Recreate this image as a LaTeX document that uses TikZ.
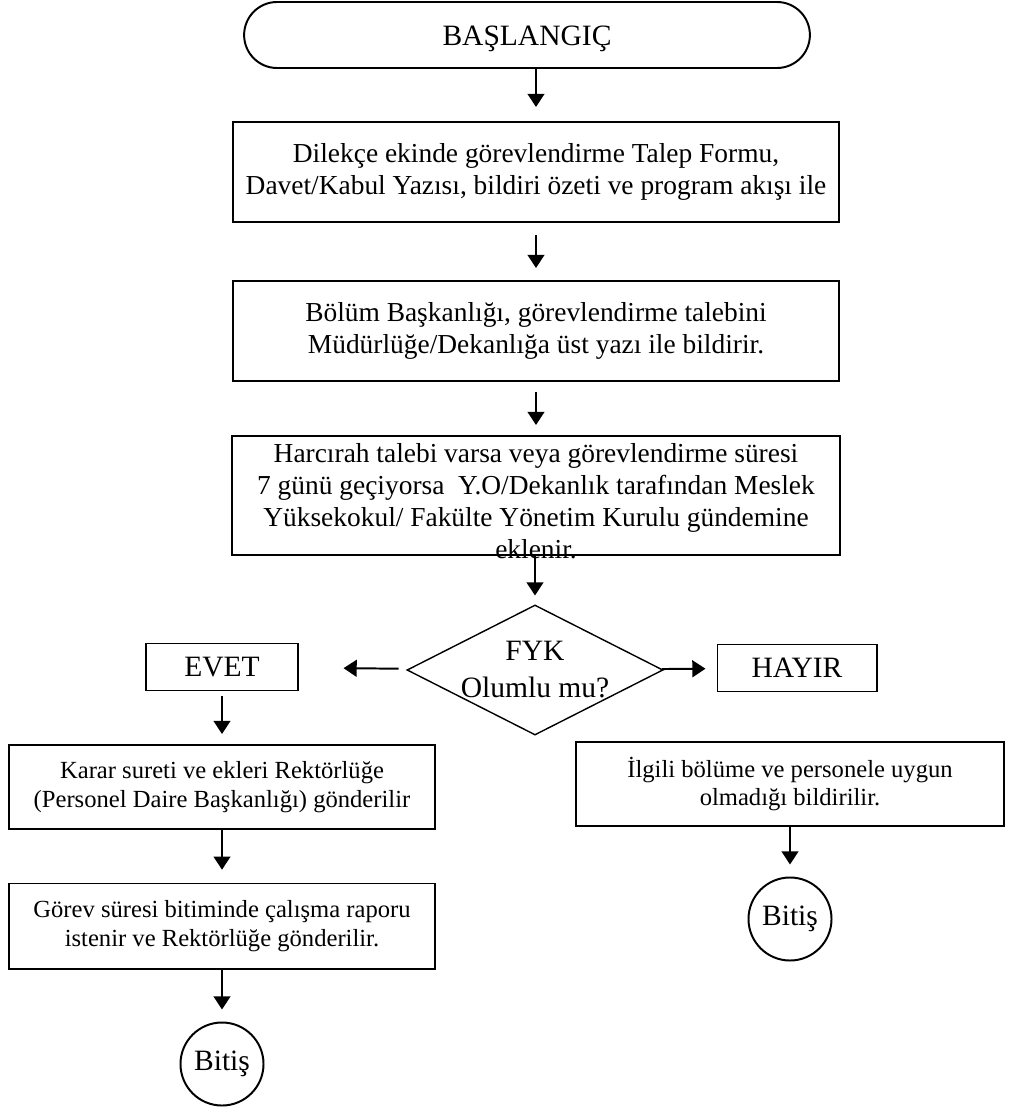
\documentclass[tikz,border=0pt]{standalone}
\usepackage{fontspec}
\setmainfont{Liberation Serif}
\usetikzlibrary{positioning,shapes.geometric,shapes.misc,arrows.meta}

\begin{document}
\begin{tikzpicture}[x=0.025cm, y=-0.025cm,
    box/.style={draw, line width=1.4pt, align=center, inner xsep=0pt},
    decision/.style={draw, diamond, line width=1pt, minimum width=6.4cm, minimum height=3.25cm, inner sep=0pt},
    bitis/.style={draw, circle, line width=1.4pt, minimum size=2.075cm, inner sep=0pt},
    flow/.style={line width=1.4pt, -{Triangle[length=0.33cm, width=0.42cm]}},
    big/.style={font=\fontsize{21}{26.3}\selectfont},
    mid/.style={font=\fontsize{19.5}{22.7}\selectfont},
    small/.style={font=\fontsize{17.5}{20.5}\selectfont}]
  \useasboundingbox (0,0) rectangle (1016,1110);

  % Main column
  \node[draw, rounded rectangle, line width=1.4pt, minimum width=14.375cm, minimum height=1.65cm,
    label={[big, yshift=-0.1cm]center:BAŞLANGIÇ}] (start) at (527,35) {};
  \node[box, mid, minimum width=15.125cm, minimum height=2.5cm] (dilekce) at (536,172)
    {Dilekçe ekinde görevlendirme Talep Formu,\\Davet/Kabul Yazısı, bildiri özeti ve program akışı ile};
  \node[box, mid, minimum width=15.125cm, minimum height=2.5cm] (bolum) at (536,331)
    {Bölüm Başkanlığı, görevlendirme talebini\\Müdürlüğe/Dekanlığa üst yazı ile bildirir.};
  \node[box, minimum width=15.2cm, minimum height=2.975cm,
    label={[mid, align=center, yshift=-0.15cm]center:Harcırah talebi varsa veya görevlendirme süresi\\7 günü geçiyorsa~ Y.O/Dekanlık tarafından Meslek\\Yüksekokul/ Fakülte Yönetim Kurulu gündemine\\eklenir.}]
    (harcirah) at (536,495.5) {};

  % Decision
  \node[decision, label={[big, align=center]center:FYK\\Olumlu mu?}] (fyk) at (535,670) {};
  \node[box, big, minimum width=3.775cm, minimum height=1.175cm] (evet) at (222,667) {EVET};
  \node[box, big, minimum width=3.975cm, minimum height=1.175cm] (hayir) at (797,668) {HAYIR};

  % Left branch
  \node[box, small, minimum width=10.625cm, minimum height=2.1cm] (karar) at (222,787)
    {Karar sureti ve ekleri Rektörlüğe\\(Personel Daire Başkanlığı) gönderilir};
  \node[box, small, minimum width=10.65cm, minimum height=2.125cm] (gorev) at (222,926)
    {Görev süresi bitiminde çalışma raporu\\istenir ve Rektörlüğe gönderilir.};
  \node[bitis, big] (bitisA) at (222,1064) {Bitiş};

  % Right branch
  \node[box, small, minimum width=10.675cm, minimum height=2.1cm] (ilgili) at (790,784)
    {İlgili bölüme ve personele uygun\\olmadığı bildirilir.};
  \node[bitis, big] (bitisB) at (790,919) {Bitiş};

  % Arrows
  \draw[flow, shorten >=0.35cm] (start.south -| dilekce.north) -- (dilekce.north);
  \draw[flow, shorten <=0.3cm, shorten >=0.3cm] (dilekce) -- (bolum);
  \draw[flow, shorten <=0.25cm, shorten >=0.25cm] (bolum) -- (harcirah);
  \draw[flow, shorten >=0.22cm] (harcirah.south -| fyk.north) -- (fyk.north);
  \draw[flow, shorten <=0.25cm, shorten >=1.125cm] (fyk) -- (evet);
  \draw[flow, shorten >=0.275cm] (fyk) -- (hayir);
  \draw[flow, shorten <=0.12cm, shorten >=0.25cm] (evet) -- (karar);
  \draw[flow, shorten >=0.32cm] (karar) -- (gorev);
  \draw[flow, shorten >=0.3cm] (gorev) -- (bitisA);
  \draw[flow, shorten >=0.3cm] (ilgili) -- (bitisB);
\end{tikzpicture}
\end{document}
